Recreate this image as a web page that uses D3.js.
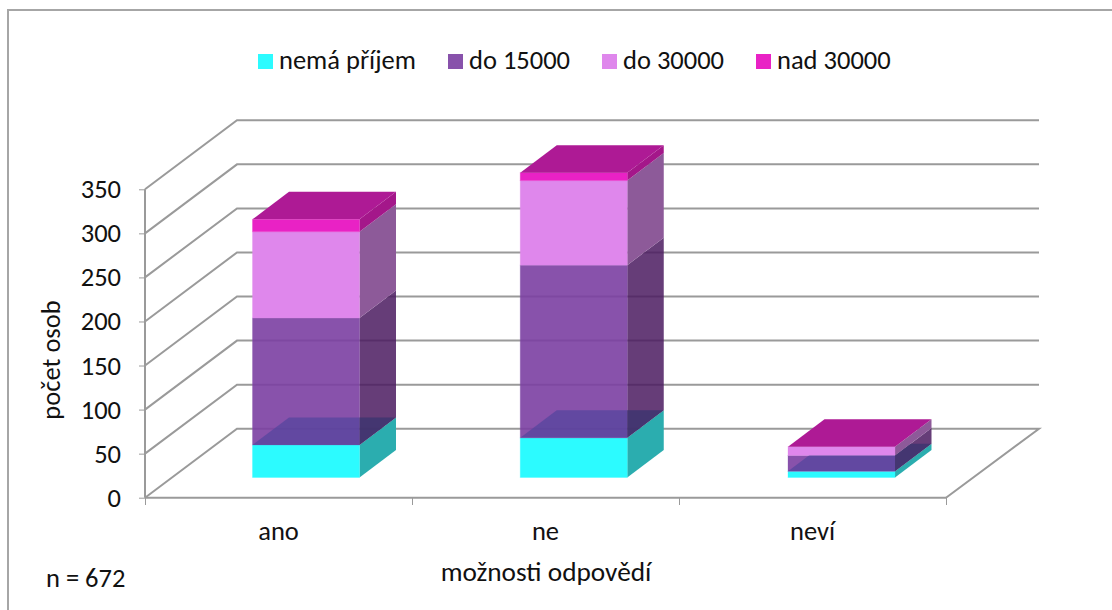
<!DOCTYPE html>
<html><head><meta charset="utf-8">
<script src="https://cdn.jsdelivr.net/npm/d3@7"></script>
<style>html,body{margin:0;padding:0;background:#fff}svg{display:block}
text{font-family:Carlito,Calibri,"Open Sans","Noto Sans",sans-serif;fill:#111}</style>
</head><body><script>
const categories = ["ano","ne","neví"];
const seriesNames = ["nemá příjem","do 15000","do 30000","nad 30000"];
const nemaPrijem = [37,45,7];
const do15000 = [144,196,18];
const do30000 = [98,96,10];
const nad30000 = [14,9,0];
const yTicks = [0,50,100,150,200,250,300,350];
const legendColors = ["#2CFBFF","#8852AB","#DF87EC","#E922C5"];
const frontColors = ["#2CFBFF","#7B3FA2","#DF87EC","#E922C5"];
const frontAlpha = [1,.9,1,1];
const sideColors = ["#2BADAF","#4B1B60","#8D5A99","#A4178A"];
const sideAlpha = [1,.85,1,1];
const capColor = "#AE1A95";
const overlayFront = "#52449C", overlaySide = "#3E3570";

const W=1112,H=610;
const svg=d3.select("body").append("svg").attr("width",W).attr("height",H);
const x=d3.scaleBand().domain(categories).range([145,946]);
const xBar=d3.scaleBand().domain(categories).range([145,948.25]);
const y=d3.scaleLinear().domain([0,350]).range([497.7,189.3]);
const wallDx=92, wallDy=-69;
const barDx=36.5, barDy=-27.5, barInset=107.5, barW=107, barRaise=20.2;
const grid="#9a9a9a";
const line=d3.line();

svg.append("path").attr("fill","none").attr("stroke","#a6a6a6").attr("stroke-width",2)
  .attr("d",line([[8,610],[8,10],[1112,10]]));

const gl=svg.append("g").attr("fill","none").attr("stroke",grid).attr("stroke-width",2);
yTicks.forEach(t=>{
  const p=t===0
    ?[[x.range()[0],y(0)],[x.range()[0]+wallDx,y(0)+wallDy],[1039,y(0)+wallDy],[x.range()[1],y(0)]]
    :[[x.range()[0],y(t)],[x.range()[0]+wallDx,y(t)+wallDy],[1039,y(t)+wallDy]];
  gl.append("path").attr("d",line(p));
});
gl.append("path").attr("d",line([[x.range()[0],y(0)],[x.range()[1],y(0)]]));
gl.append("path").attr("d",line([[x.range()[0],y(0)],[x.range()[0],y(350)]]));
yTicks.forEach(t=>gl.append("path").attr("stroke-width",1).attr("d",line([[139,y(t)+.5],[145,y(t)+.5]])));
x.domain().concat("end").forEach((c,i)=>{
  const px=x.range()[0]+i*x.bandwidth();
  gl.append("path").attr("stroke-width",1).attr("d",line([[px+.5,498],[px+.5,505]]));
});

const stacked=d3.stack().keys(d3.range(4))(categories.map((c,i)=>[nemaPrijem[i],do15000[i],do30000[i],nad30000[i]]));
const bars=svg.append("g");
const defs=svg.append("defs");
categories.forEach((c,i)=>{
  const x0=xBar(c)+barInset,x1=x0+barW;
  const yOf=v=>y(v)-barRaise;
  stacked.forEach((s,k)=>{
    const v0=s[i][0],v1=s[i][1];
    const yb=yOf(v0),yt=yOf(v1);
    if(v1>v0){
      bars.append("path").attr("fill",sideColors[k]).attr("fill-opacity",sideAlpha[k])
        .attr("d",line([[x1,yb],[x1+barDx,yb+barDy],[x1+barDx,yt+barDy],[x1,yt]])+"Z");
      bars.append("rect").attr("x",x0).attr("y",yt).attr("width",barW).attr("height",yb-yt)
        .attr("fill",frontColors[k]).attr("fill-opacity",frontAlpha[k])
        .attr("stroke",legendColors[k]).attr("stroke-opacity",.3);
    }
  });
  // top of the lowest series, seen through the series above it
  const s0=stacked[0][i][1], s1=stacked[1][i][1];
  const yt=yOf(s0), yn=yOf(s1), id="clip"+i;
  const cp=defs.append("clipPath").attr("id",id);
  cp.append("path").attr("d",line([[x0,yt],[x1,yt],[x1+barDx,yt+barDy],[x1+barDx,yn+barDy],[x1,yn],[x0,yn]])+"Z");
  const ov=bars.append("g").attr("clip-path",`url(#${id})`);
  ov.append("path").attr("fill",overlayFront).attr("fill-opacity",.7)
    .attr("d",line([[x0,yt],[x0+barDx,yt+barDy],[x1,yt+barDy],[x1,yt]])+"Z");
  ov.append("path").attr("fill",overlaySide).attr("fill-opacity",.85)
    .attr("d",line([[x1,yt],[x1,yt+barDy],[x1+barDx,yt+barDy]])+"Z");
  // cap on top of the stack
  const ytop=yOf(stacked[3][i][1]);
  bars.append("path").attr("fill",capColor)
    .attr("d",line([[x0,ytop],[x0+barDx,ytop+barDy],[x1+barDx,ytop+barDy],[x1,ytop]])+"Z");
});

const fs=26.5;
svg.append("g").attr("font-size",fs).attr("text-anchor","end").selectAll("text").data(yTicks).join("text")
  .attr("x",121).attr("y",d=>y(d)+9).text(d=>d);
svg.append("g").attr("font-size",fs).attr("text-anchor","middle").selectAll("text").data(categories).join("text")
  .attr("x",d=>x(d)+x.bandwidth()/2).attr("y",540).text(d=>d);
svg.append("text").attr("font-size",fs).attr("text-anchor","middle").attr("transform","translate(60,360) rotate(-90)").text("počet osob");
svg.append("text").attr("font-size",27.3).attr("text-anchor","middle").attr("x",546).attr("y",581).text("možnosti odpovědí");
svg.append("text").attr("font-size",fs).attr("x",46).attr("y",587).text("n = 672");

const legendX=[258,448,602,756];
const lg=svg.append("g").selectAll("g").data(seriesNames).join("g");
lg.append("rect").attr("x",(d,i)=>legendX[i]).attr("y",54).attr("width",15).attr("height",15).attr("fill",(d,i)=>legendColors[i]);
lg.append("text").attr("font-size",26.5).attr("x",(d,i)=>legendX[i]+21).attr("y",69).text(d=>d);
</script></body></html>
